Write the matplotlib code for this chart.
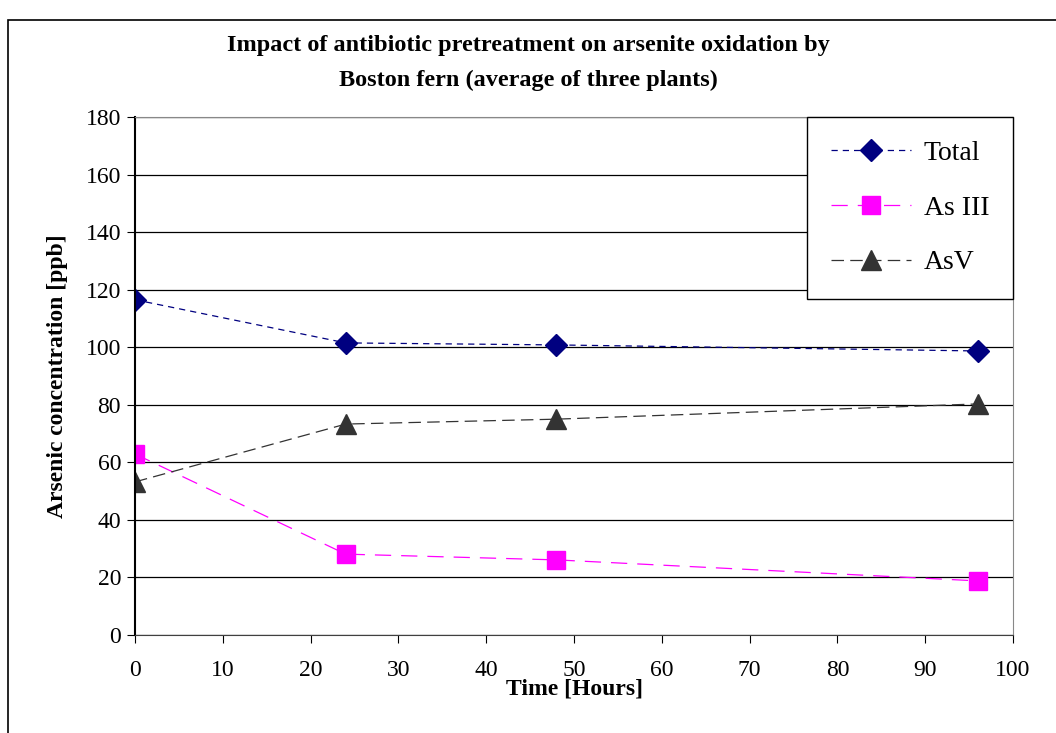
import matplotlib.pyplot as plt
from matplotlib.patches import Rectangle

plt.rcParams['font.family'] = ['Liberation Serif', 'DejaVu Serif']

# sampling times and measured concentrations
hours = [0, 24, 48, 96]
total = [116.5, 101.5, 100.8, 98.7]
as_iii = [62.9, 28.1, 26.1, 18.8]
as_v = [53.2, 73.3, 75.0, 80.3]

fig = plt.figure(figsize=(10.56, 7.33), dpi=100)
ax = fig.add_axes([135 / 1056, 1 - 635 / 733, (1013 - 135) / 1056, (635 - 117) / 733])

# frame round the whole chart
fig.patches.append(Rectangle((8 / 1056, -0.01), 1.1, 1 - 20 / 733 + 0.01,
                             transform=fig.transFigure, fill=False,
                             edgecolor='black', linewidth=1.2))

ax.plot(hours, total, color='#000080', linestyle=(0, (5, 4)), linewidth=0.9,
        marker='D', markersize=11.5, markerfacecolor='#000080',
        markeredgecolor='#000080', label='Total')
ax.plot(hours, as_iii, color='#ff00ff', linestyle=(0, (13, 8)), linewidth=0.9,
        marker='s', markersize=13.5, markerfacecolor='#ff00ff',
        markeredgecolor='#ff00ff', label='As III')
ax.plot(hours, as_v, color='#333333', linestyle=(0, (10, 5)), linewidth=0.9,
        marker='^', markersize=15, markerfacecolor='#333333',
        markeredgecolor='#333333', label='AsV')

ax.set_xlim(0, 100)
ax.set_ylim(0, 180)
ax.set_xticks(range(0, 101, 10))
ax.set_yticks(range(0, 181, 20))
ax.grid(True, axis='y', color='black', linewidth=0.9)
ax.set_axisbelow(True)

ax.tick_params(axis='x', direction='out', length=6, pad=12, labelsize=17)
ax.tick_params(axis='y', direction='out', length=6, pad=4, labelsize=17)
ax.spines['left'].set_linewidth(1.5)
ax.spines['bottom'].set_color('#404040')
ax.spines['right'].set_color('#888888')
ax.spines['top'].set_color('#888888')

ax.set_xlabel('Time [Hours]', fontsize=17, fontweight='bold', labelpad=-2)
ax.set_ylabel('Arsenic concentration [ppb]', fontsize=17, fontweight='bold', labelpad=13)

fig.text(0.5, 1 - 45 / 733, 'Impact of antibiotic pretreatment on arsenite oxidation by',
         ha='center', va='center', fontsize=17.5, fontweight='bold')
fig.text(0.5, 1 - 80 / 733, 'Boston fern (average of three plants)',
         ha='center', va='center', fontsize=17.5, fontweight='bold')

leg = ax.legend(loc='upper right', bbox_to_anchor=(1.0, 1.0), fontsize=20,
                frameon=True, fancybox=False, borderpad=0.85, labelspacing=1.05,
                handlelength=2.9, handletextpad=0.45, borderaxespad=0)
leg.get_frame().set_edgecolor('black')
leg.get_frame().set_linewidth(1.0)
leg.get_frame().set_alpha(1.0)

fig.savefig('out.png', dpi=100)
